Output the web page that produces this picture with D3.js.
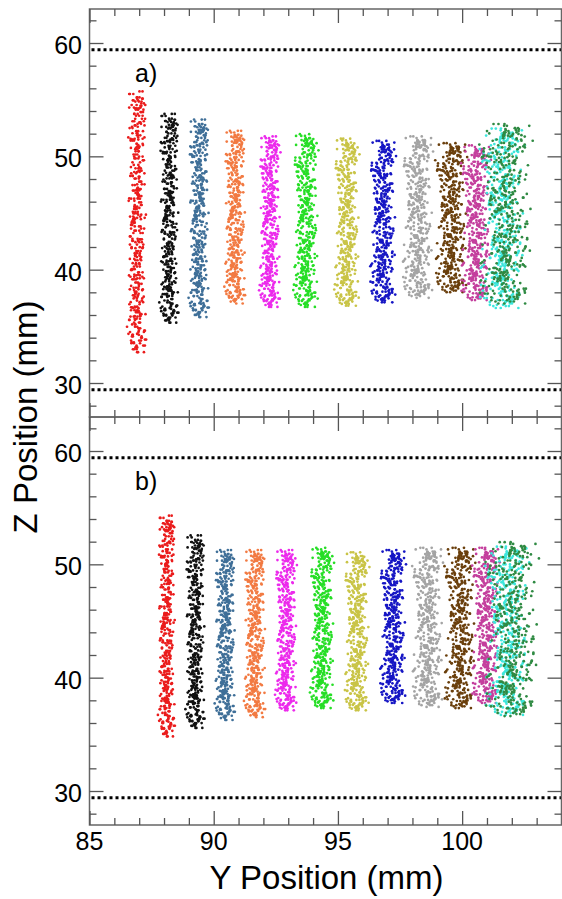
<!DOCTYPE html>
<html>
<head>
<meta charset="utf-8">
<script src="https://cdn.jsdelivr.net/npm/d3@7"></script>
<style>
  body { margin: 0; background: #fff; }
  text { font-family: "Liberation Sans", Arial, sans-serif; fill: #000; }
</style>
</head>
<body>
<svg id="chart" width="562" height="899"></svg>
<script>
// * beam colours, one per cluster (left to right)
const beamColors = [
  "#ea1c1c", "#111111", "#3f6f98", "#f27a42", "#ec2aec", "#26de26", "#c9c447",
  "#1616c4", "#a4a4a4", "#6a3f0c", "#c43f9d", "#3de6dc", "#2f8a43",
];

// * panel a) cluster centre (Y, mm), half width (mm), top / bottom Z (mm)
const centersA = [86.9, 88.2, 89.4, 90.85, 92.25, 93.7, 95.35, 96.8, 98.2, 99.55, 100.55, 101.6, 101.75];
const halfWidthA = [0.36, 0.36, 0.38, 0.39, 0.39, 0.46, 0.46, 0.48, 0.56, 0.58, 0.54, 0.82, 0.97];
const zTopA = [55.8, 53.8, 53.3, 52.3, 51.8, 52.0, 51.6, 51.4, 51.8, 51.2, 51.0, 52.5, 52.9];
const zBottomA = [32.7, 35.3, 35.8, 37.0, 36.7, 36.7, 36.8, 37.1, 37.5, 38.0, 37.3, 36.6, 37.0];

// * panel b)
const centersB = [88.1, 89.25, 90.45, 91.65, 92.9, 94.35, 95.75, 97.2, 98.6, 99.9, 100.95, 101.8, 102.0];
const halfWidthB = [0.32, 0.36, 0.38, 0.4, 0.4, 0.44, 0.46, 0.48, 0.56, 0.56, 0.5, 0.8, 0.97];
const zTopB = [54.35, 52.6, 51.3, 51.3, 51.3, 51.5, 51.1, 51.3, 51.5, 51.5, 51.5, 51.6, 52.0];
const zBottomB = [34.8, 35.55, 36.25, 36.5, 37.1, 37.3, 37.1, 37.75, 37.4, 37.3, 37.75, 36.7, 36.6];

// * dotted limit lines (Z, mm)
const limitLines = [59.4, 29.4];

// * axis ticks
const yMajorTicks = [85, 90, 95, 100];
const zMajorTicks = [30, 40, 50, 60];

// * scatter texture inside a cluster: across offsets (-1..1) and along offsets (0..1)
const scatterU = [
  -0.62, 0.15, 0.81, -0.27, 0.44, -0.05, -0.91, 0.33, 0.07, -0.48,
  0.66, -0.18, 0.25, -0.73, 0.52, 0.02, -0.36, 0.94, -0.11, 0.39,
  -0.57, 0.12, 0.71, -0.24, -0.83, 0.29, 0.58, -0.02, -0.44, 0.19,
  0.87, -0.31, 0.05, -0.66, 0.47, -0.15, 0.35, -0.97, 0.09, 0.62,
  -0.39, 0.22, -0.08, 0.76, -0.53, 0.41, -0.21, 0.13, -0.78, 0.55,
  0.31, -0.12, -0.59, 0.84, 0.03, -0.33, 0.68, -0.46, 0.17, -0.87,
  0.27, -0.04, 0.49, -0.69, 0.11, 0.91, -0.29,
];
const scatterV = [
  0.412, 0.873, 0.056, 0.639, 0.297, 0.951, 0.184, 0.526, 0.768, 0.341,
  0.019, 0.703, 0.465, 0.892, 0.238, 0.587, 0.124, 0.816, 0.379, 0.664,
  0.092, 0.935, 0.501, 0.267, 0.748, 0.153, 0.609, 0.432, 0.987, 0.315,
  0.071, 0.552, 0.829, 0.206, 0.684, 0.398, 0.911, 0.137, 0.573, 0.254,
  0.792, 0.038, 0.487, 0.726, 0.169, 0.958, 0.352, 0.618, 0.083, 0.845,
  0.279, 0.537, 0.001, 0.694, 0.421, 0.867, 0.192, 0.756, 0.328, 0.597,
  0.045, 0.918, 0.473, 0.231, 0.809, 0.146, 0.652, 0.387, 0.974, 0.514,
  0.107, 0.781, 0.289, 0.563, 0.026, 0.857, 0.443, 0.716, 0.175, 0.629,
  0.364, 0.942, 0.218, 0.495, 0.061, 0.837, 0.306, 0.671, 0.129, 0.588,
  0.904, 0.247, 0.548, 0.012, 0.734, 0.402, 0.963, 0.161, 0.619, 0.336,
  0.879, 0.078, 0.456, 0.797, 0.224, 0.531, 0.945, 0.283, 0.642, 0.114,
  0.821, 0.372, 0.997, 0.198, 0.579, 0.049, 0.708, 0.434, 0.862, 0.262,
  0.603, 0.139, 0.927, 0.318, 0.674, 0.035, 0.509, 0.776, 0.213, 0.883,
  0.357, 0.067, 0.741, 0.481, 0.159, 0.969, 0.294, 0.557, 0.098, 0.813,
  0.426, 0.689, 0.241, 0.932, 0.519, 0.172, 0.786, 0.369, 0.624,
];
const pointsPerCluster = 420;

const svg = d3.select("#chart");
const left = 89.5;
const right = 561.5;

const xScale = d3.scaleLinear().domain([85, 104]).range([left, right]);

const panels = [
  { label: "a)", top: 9, bottom: 417, centers: centersA, half: halfWidthA, zTop: zTopA, zBottom: zBottomA },
  { label: "b)", top: 417, bottom: 825, centers: centersB, half: halfWidthB, zTop: zTopB, zBottom: zBottomB },
];

// * place the texture inside one cluster's extent
const buildCluster = (panel, c, p) => {
  const nu = scatterU.length;
  const nv = scatterV.length;
  const pts = [];
  for (let i = 0; i < pointsPerCluster; i++) {
    const k = i + c * 31 + p * 17;
    const j = (k * 5 + Math.floor(k / nu) * 23) % nu;
    const u = 0.72 * scatterU[k % nu] + 0.5 * scatterU[j];
    const v = scatterV[(k * 37) % nv];
    pts.push({
      y: panel.centers[c] + u * panel.half[c],
      z: panel.zBottom[c] + v * (panel.zTop[c] - panel.zBottom[c]),
    });
  }
  return pts;
};

panels.forEach((panel, p) => {
  const zScale = d3.scaleLinear().domain([27, 63]).range([panel.bottom, panel.top]);
  const layer = svg.append("g");

  // * clusters
  beamColors.forEach((color, c) => {
    layer
      .append("g")
      .selectAll("circle")
      .data(buildCluster(panel, c, p))
      .enter()
      .append("circle")
      .attr("cx", (d) => xScale(d.y))
      .attr("cy", (d) => zScale(d.z))
      .attr("r", 1.35)
      .style("fill", color);
  });

  // * dotted limits
  layer
    .selectAll("line.limit")
    .data(limitLines)
    .enter()
    .append("line")
    .attr("x1", left + 2)
    .attr("x2", right)
    .attr("y1", (d) => zScale(d))
    .attr("y2", (d) => zScale(d))
    .style("stroke", "#000")
    .style("stroke-width", 3)
    .style("stroke-dasharray", "3,3");

  // * frame
  layer
    .append("rect")
    .attr("x", left)
    .attr("y", panel.top)
    .attr("width", right - left)
    .attr("height", panel.bottom - panel.top)
    .style("fill", "none")
    .style("stroke", "#666")
    .style("stroke-width", 1.5);

  // * ticks, major and minor, all pointing inward
  const zMinor = d3.range(28, 63, 2).filter((t) => !zMajorTicks.includes(t));
  const yMinor = d3.range(86, 104, 1).filter((t) => !yMajorTicks.includes(t));
  const tickSets = [
    [d3.axisRight(zScale), `translate(${left},0)`, zMajorTicks, zMinor],
    [d3.axisLeft(zScale), `translate(${right},0)`, zMajorTicks, zMinor],
    [d3.axisTop(xScale), `translate(0,${panel.bottom})`, yMajorTicks, yMinor],
    [d3.axisBottom(xScale), `translate(0,${panel.top})`, yMajorTicks, yMinor],
  ];
  tickSets.forEach(([axis, tr, major, minor]) => {
    [[major, 14], [minor, 7]].forEach(([vals, size]) => {
      const g = layer
        .append("g")
        .attr("transform", tr)
        .call(axis.tickValues(vals).tickSize(size).tickFormat(""));
      g.select(".domain").remove();
      g.selectAll("line").style("stroke", "#555").style("stroke-width", 1.3);
    });
  });

  // * Z tick labels
  layer
    .selectAll("text.zlab")
    .data(zMajorTicks)
    .enter()
    .append("text")
    .attr("x", 82)
    .attr("y", (d) => zScale(d) + 11)
    .attr("text-anchor", "end")
    .style("font-size", "25px")
    .text((d) => d);

  // * panel label
  layer
    .append("text")
    .attr("x", 135)
    .attr("y", panel.top + 73)
    .style("font-size", "25px")
    .text(panel.label);
});

// * Y tick labels
svg
  .selectAll("text.ylab")
  .data(yMajorTicks)
  .enter()
  .append("text")
  .attr("x", (d) => xScale(d))
  .attr("y", 850)
  .attr("text-anchor", "middle")
  .style("font-size", "25px")
  .text((d) => d);

// * axis titles
svg
  .append("text")
  .attr("x", (left + right) / 2 + 1)
  .attr("y", 889)
  .attr("text-anchor", "middle")
  .style("font-size", "33px")
  .text("Y Position (mm)");

svg
  .append("text")
  .attr("transform", "translate(37,417) rotate(-90)")
  .attr("text-anchor", "middle")
  .style("font-size", "33px")
  .text("Z Position (mm)");
</script>
</body>
</html>
